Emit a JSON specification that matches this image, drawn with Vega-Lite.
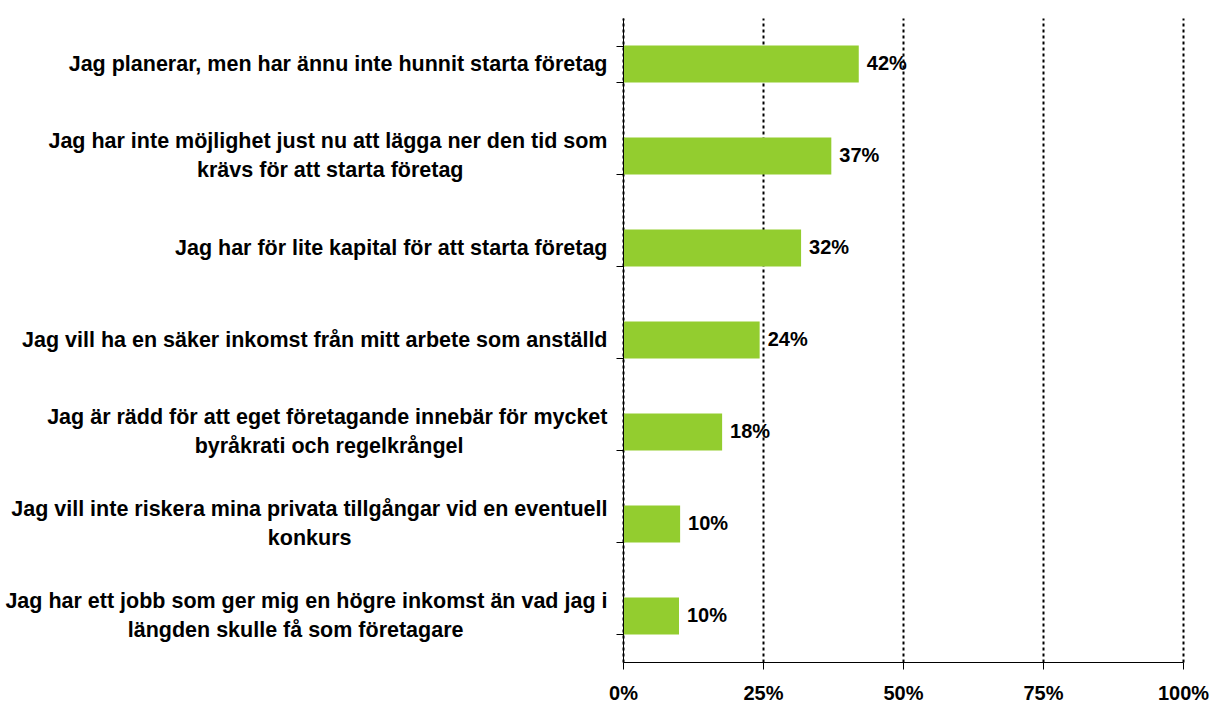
{
  "$schema": "https://vega.github.io/schema/vega-lite/v6.json",
  "width": 560,
  "height": 644,
  "autosize": {"type": "none"},
  "padding": {"left": 623, "top": 18, "right": 28, "bottom": 41},
  "background": "white",
  "config": {
    "view": {"stroke": null},
    "font": "Liberation Sans"
  },
  "data": {
    "values": [
      {"reason": "\u2800|Jag planerar, men har ännu inte hunnit starta företag", "share": 0.421},
      {"reason": "Jag har inte möjlighet just nu att lägga ner den tid som|\u2800|krävs för att starta företag\u2800\u2800\u2800\u2800\u2800\u2800\u2800\u2800\u2800", "share": 0.372},
      {"reason": "\u2800|Jag har för lite kapital för att starta företag", "share": 0.318},
      {"reason": "\u2800|Jag vill ha en säker inkomst från mitt arbete som anställd", "share": 0.244},
      {"reason": "Jag är rädd för att eget företagande innebär för mycket|\u2800|byråkrati och regelkrångel\u2800\u2800\u2800\u2800\u2800\u2800\u2800\u2800\u2800", "share": 0.177},
      {"reason": "Jag vill inte riskera mina privata tillgångar vid en eventuell|\u2800|konkurs\u2800\u2800\u2800\u2800\u2800\u2800\u2800\u2800\u2800\u2800\u2800\u2800\u2800\u2800\u2800\u2800", "share": 0.102},
      {"reason": "Jag har ett jobb som ger mig en högre inkomst än vad jag i|\u2800|längden skulle få som företagare\u2800\u2800\u2800\u2800\u2800\u2800\u2800\u2800\u2800", "share": 0.1}
    ]
  },
  "encoding": {
    "y": {
      "field": "reason",
      "type": "nominal",
      "sort": null,
      "scale": {"paddingInner": 0.6, "paddingOuter": 0.3},
      "axis": {
        "title": null,
        "zindex": 1,
        "labelExpr": "split(datum.label, '|')",
        "labelFont": "Liberation Sans",
        "labelFontWeight": "bold",
        "labelFontSize": 21.5,
        "labelColor": "black",
        "labelLineHeight": 14.5,
        "labelOffset": -14.5,
        "labelLimit": 800,
        "labelPadding": 9,
        "tickBand": "extent",
        "tickSize": 7,
        "tickColor": "black",
        "domainColor": "black",
        "domainWidth": 1,
        "tickWidth": 1,
        "grid": false
      }
    },
    "x": {
      "field": "share",
      "type": "quantitative",
      "scale": {"domain": [0, 1], "nice": false},
      "axis": {
        "title": null,
        "format": ".0%",
        "values": [0, 0.25, 0.5, 0.75, 1],
        "labelFlush": false,
        "labelFont": "Liberation Sans",
        "labelFontWeight": "bold",
        "labelFontSize": 20,
        "labelColor": "black",
        "labelPadding": 14,
        "tickSize": 7,
        "tickColor": "black",
        "domainColor": "black",
        "grid": true,
        "gridColor": "black",
        "gridDash": [3, 3],
        "gridWidth": 2,
        "gridOpacity": 1,
        "zindex": 0
      }
    }
  },
  "layer": [
    {"mark": {"type": "bar", "color": "#93CD2F"}},
    {
      "mark": {"type": "text", "align": "left", "baseline": "middle", "dx": 8, "font": "Liberation Sans", "fontWeight": "bold", "fontSize": 20, "color": "black"},
      "encoding": {"text": {"field": "share", "type": "quantitative", "format": ".0%"}}
    }
  ]
}
